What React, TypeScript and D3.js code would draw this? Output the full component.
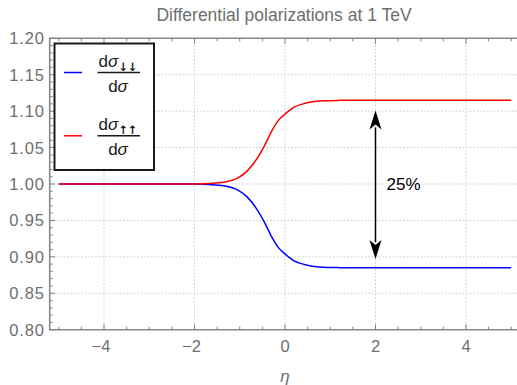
import React, {useEffect, useRef} from "react";
import * as d3 from "d3";

const etaValues = [-5, -2, -1.6, -1.3, -1.05, -0.85, -0.65, -0.45, -0.3, -0.15, 0, 0.1, 0.2, 0.4, 0.6, 0.85, 1.2, 1.6, 5];
const upUp = [1, 1.0, 1.001, 1.003, 1.008, 1.017, 1.032, 1.053, 1.072, 1.087, 1.096, 1.101, 1.1055, 1.11, 1.1128, 1.1142, 1.1148, 1.115, 1.115];
const downDown = [1, 1.0, 0.999, 0.997, 0.992, 0.983, 0.968, 0.947, 0.928, 0.913, 0.904, 0.899, 0.8945, 0.89, 0.8872, 0.8858, 0.8852, 0.885, 0.885];
const xTicks = [-4, -2, 0, 2, 4];
const yTicks = [0.8, 0.85, 0.9, 0.95, 1.0, 1.05, 1.1, 1.15, 1.2];
const arrowEta = 2;
const arrowRange = [0.897, 1.101];
const arrowLabel = "25%";
const title = "Differential polarizations at 1 TeV";

const FONT = "'Liberation Sans', Arial, sans-serif";

const PolarizationChart: React.FC = () => {
    const svgRef = useRef<SVGSVGElement>(null);
    const width = 517;
    const height = 385;
    const margin = {top: 38.3, right: -3.3, bottom: 55.3, left: 49.7};
    const innerWidth = width - margin.left - margin.right;
    const innerHeight = height - margin.top - margin.bottom;

    useEffect(() => {
        const svg = d3.select(svgRef.current);
        svg.selectAll("*").remove();

        const x = d3.scaleLinear().domain([-5.2, 5.2]).range([0, innerWidth]);
        const y = d3.scaleLinear().domain([0.8, 1.2]).range([innerHeight, 0]);

        svg.append("text")
            .attr("x", 284)
            .attr("y", 21)
            .attr("text-anchor", "middle")
            .attr("font-family", FONT)
            .attr("font-size", 17.5)
            .attr("fill", "#6e6e6e")
            .text(title);

        const g = svg.append("g").attr("transform", `translate(${margin.left},${margin.top})`);

        // grid
        g.selectAll(".gx").data(xTicks).join("line")
            .attr("x1", d => x(d)).attr("x2", d => x(d))
            .attr("y1", 0).attr("y2", innerHeight)
            .attr("stroke", "#c8c8c8").attr("stroke-dasharray", "1.5,2").attr("stroke-width", 1);
        g.selectAll(".gy").data(yTicks.slice(1, -1)).join("line")
            .attr("x1", 0).attr("x2", innerWidth)
            .attr("y1", d => y(d)).attr("y2", d => y(d))
            .attr("stroke", "#c8c8c8").attr("stroke-dasharray", "1.5,2").attr("stroke-width", 1);

        // minor / major ticks
        const xMinor = d3.range(-5, 5.01, 0.5).filter(v => !xTicks.includes(v));
        const tickColor = "#808080";
        [[innerHeight, -1], [0, 1]].forEach(([base, dir]) => {
            g.selectAll(null).data(xMinor).join("line")
                .attr("x1", d => x(d)).attr("x2", d => x(d))
                .attr("y1", base).attr("y2", base + dir * 3)
                .attr("stroke", tickColor);
            g.selectAll(null).data(xTicks).join("line")
                .attr("x1", d => x(d)).attr("x2", d => x(d))
                .attr("y1", base).attr("y2", base + dir * 5.5)
                .attr("stroke", tickColor);
        });
        const yMinor = d3.range(80, 121).map(v => v / 100).filter(v => Math.round(v * 100) % 5 !== 0);
        g.selectAll(null).data(yMinor).join("line")
            .attr("x1", 0).attr("x2", 3)
            .attr("y1", d => y(d)).attr("y2", d => y(d))
            .attr("stroke", tickColor);
        g.selectAll(null).data(yTicks).join("line")
            .attr("x1", 0).attr("x2", 5.5)
            .attr("y1", d => y(d)).attr("y2", d => y(d))
            .attr("stroke", tickColor);

        // frame
        g.append("path")
            .attr("d", `M${innerWidth},0H0V${innerHeight}H${innerWidth}`)
            .attr("fill", "none").attr("stroke", "#888").attr("stroke-width", 1.6);

        // tick labels
        g.selectAll(".xl").data(xTicks).join("text")
            .attr("x", d => x(d) - (d < 0 ? 3 : 0)).attr("y", innerHeight + 22)
            .attr("text-anchor", "middle")
            .attr("font-family", FONT).attr("font-size", 16.5).attr("fill", "#6e6e6e")
            .text(d => d < 0 ? `\u2212${Math.abs(d)}` : `${d}`);
        g.selectAll(".yl").data(yTicks).join("text")
            .attr("x", -5).attr("y", d => y(d) + 6)
            .attr("text-anchor", "end")
            .attr("font-family", FONT).attr("font-size", 16.5).attr("fill", "#6e6e6e")
            .attr("letter-spacing", 0.8)
            .text(d => d.toFixed(2));
        g.append("text")
            .attr("x", x(0)).attr("y", innerHeight + 52)
            .attr("text-anchor", "middle")
            .attr("font-family", FONT).attr("font-size", 17).attr("font-style", "italic").attr("fill", "#6e6e6e")
            .text("\u03b7");

        // curves
        const line = d3.line<number>()
            .x((_, i) => x(etaValues[i]))
            .y(d => y(d))
            .curve(d3.curveMonotoneX);
        g.append("path").datum(downDown)
            .attr("fill", "none").attr("stroke", "#0000ff").attr("stroke-width", 1.5)
            .attr("d", line);
        g.append("path").datum(upUp)
            .attr("fill", "none").attr("stroke", "#ff0000").attr("stroke-width", 1.5)
            .attr("d", line);

        // double arrow
        const ax = x(arrowEta);
        const yTop = y(arrowRange[1]);
        const yBot = y(arrowRange[0]);
        const headL = 19;
        const headW = 6;
        g.append("line")
            .attr("x1", ax).attr("x2", ax)
            .attr("y1", yTop + headL - 2).attr("y2", yBot - headL + 2)
            .attr("stroke", "black").attr("stroke-width", 1.5);
        g.append("path")
            .attr("d", `M${ax},${yTop}L${ax - headW},${yTop + headL}L${ax},${yTop + headL - 5}L${ax + headW},${yTop + headL}Z`)
            .attr("fill", "black");
        g.append("path")
            .attr("d", `M${ax},${yBot}L${ax - headW},${yBot - headL}L${ax},${yBot - headL + 5}L${ax + headW},${yBot - headL}Z`)
            .attr("fill", "black");
        g.append("text")
            .attr("x", ax + 11).attr("y", y(1.0) + 6)
            .attr("font-family", FONT).attr("font-size", 17).attr("fill", "black")
            .text(arrowLabel);

        // legend
        const lg = svg.append("g");
        lg.append("rect")
            .attr("x", 54.5).attr("y", 43.5).attr("width", 99.5).attr("height", 126.5)
            .attr("fill", "white").attr("stroke", "#1a1a1a").attr("stroke-width", 2);
        const entries = [
            {color: "#0000ff", sub: "\u2193\u2193", cy: 72.5},
            {color: "#ff0000", sub: "\u2191\u2191", cy: 135.8}
        ];
        entries.forEach(e => {
            lg.append("line")
                .attr("x1", 64).attr("x2", 82).attr("y1", e.cy).attr("y2", e.cy)
                .attr("stroke", e.color).attr("stroke-width", 1.5);
            lg.append("line")
                .attr("x1", 97.5).attr("x2", 140).attr("y1", e.cy).attr("y2", e.cy)
                .attr("stroke", "#1a1a1a").attr("stroke-width", 1.5);
            const num = lg.append("text")
                .attr("x", 98.5).attr("y", e.cy - 5.5)
                .attr("font-family", FONT).attr("font-size", 17).attr("fill", "#1a1a1a");
            num.append("tspan").text("d");
            num.append("tspan").attr("font-style", "italic").text("\u03c3");
            lg.append("text")
                .attr("x", 118.5).attr("y", e.cy - 2)
                .attr("font-family", "'DejaVu Sans', sans-serif").attr("font-size", 11.5)
                .attr("font-weight", "bold").attr("fill", "#1a1a1a")
                .attr("letter-spacing", -0.5)
                .text(e.sub);
            const den = lg.append("text")
                .attr("x", 118).attr("y", e.cy + 19.5)
                .attr("text-anchor", "middle")
                .attr("font-family", FONT).attr("font-size", 17).attr("fill", "#1a1a1a");
            den.append("tspan").text("d");
            den.append("tspan").attr("font-style", "italic").text("\u03c3");
        });
    }, []);

    return <svg ref={svgRef} width={width} height={height}
                style={{position: "absolute", left: 0, top: 0, background: "white"}}></svg>;
};

export default function App() {
    return <PolarizationChart/>;
}
